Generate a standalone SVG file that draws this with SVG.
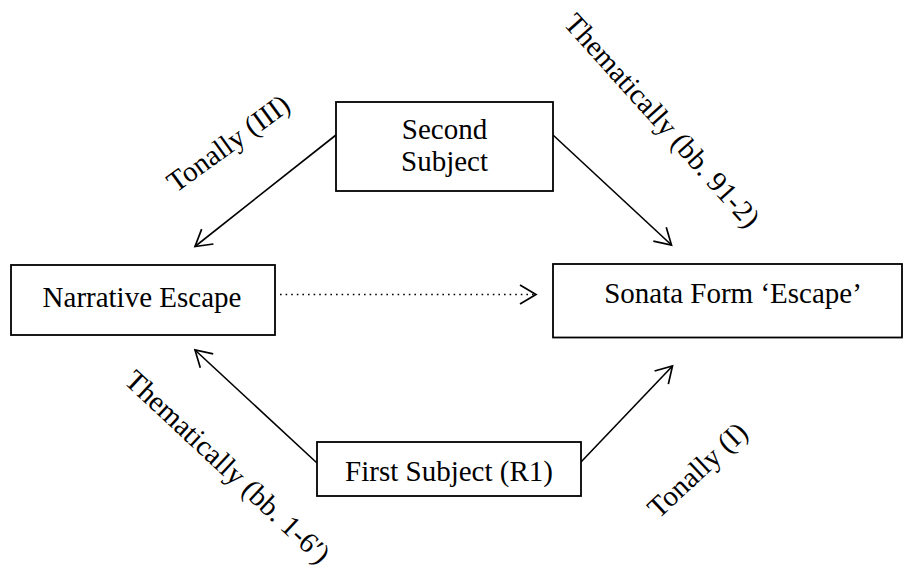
<svg xmlns="http://www.w3.org/2000/svg" width="904" height="568" viewBox="0 0 904 568">
<defs>
<style>
.box{fill:#fff;stroke:#000;stroke-width:1.8}
text{font-family:'Liberation Serif','DejaVu Serif','Times New Roman',serif;font-size:29px;fill:#000;text-anchor:middle}
.ln{stroke:#000;stroke-width:1.6;fill:none}
.dot{stroke:#000;stroke-width:1.6;fill:none;stroke-dasharray:1.6 4}
</style>
<marker id="ah" viewBox="-18 -11 20 22" refX="0" refY="0" markerWidth="20" markerHeight="22" markerUnits="userSpaceOnUse" orient="auto">
<path d="M-16,-9.5 L0,0 L-16,9.5" fill="none" stroke="#000" stroke-width="1.7"/>
</marker>
</defs>
<rect width="904" height="568" fill="#fff"/>
<g font-family="Liberation Serif, DejaVu Serif, serif" font-size="29">
<g id="connectors">
<line class="ln" x1="336" y1="135" x2="195" y2="246.5" marker-end="url(#ah)"/>
<line class="ln" x1="553" y1="135" x2="671.5" y2="245" marker-end="url(#ah)"/>
<line class="ln" x1="317" y1="463" x2="195" y2="350" marker-end="url(#ah)"/>
<line class="ln" x1="581" y1="462" x2="672.5" y2="366" marker-end="url(#ah)"/>
<line class="dot" x1="280" y1="294.5" x2="536" y2="294.5" marker-end="url(#ah)"/>
<text transform="translate(234,151) rotate(-36)">Tonally (III)</text>
<text transform="translate(655,127) rotate(48)">Thematically (bb. 91-2)</text>
<text transform="translate(221,474) rotate(43)">Thematically (bb. 1-6′)</text>
<text transform="translate(704,477) rotate(-43)">Tonally (I)</text>
</g>
<g id="second-subject">
<rect class="box" x="336" y="102" width="217" height="89"/>
<text x="444.5" y="139">Second</text>
<text x="444.5" y="171">Subject</text>
</g>
<g id="narrative-escape">
<rect class="box" x="11" y="265" width="264" height="70"/>
<text x="142" y="307">Narrative Escape</text>
</g>
<g id="sonata-form">
<rect class="box" x="553" y="264" width="349" height="73.5"/>
<text x="733" y="303">Sonata Form ‘Escape’</text>
</g>
<g id="first-subject">
<rect class="box" x="317" y="442" width="264" height="54"/>
<text x="449" y="481">First Subject (R1)</text>
</g>
</g>
</svg>
